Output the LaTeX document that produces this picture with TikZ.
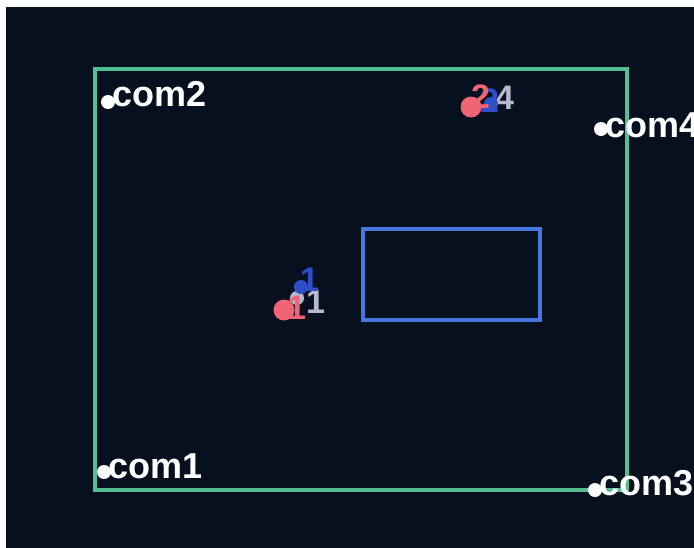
\documentclass[tikz,border=0pt]{standalone}
\usepackage{fontspec}
\setmainfont{Liberation Sans}
\usepackage{tikz}
\usetikzlibrary{positioning}
\definecolor{bgnavy}{RGB}{6,16,30}
\definecolor{framegreen}{RGB}{84,190,146}
\definecolor{zoneblue}{RGB}{70,118,222}
\definecolor{ptpink}{RGB}{240,100,118}
\definecolor{ptblue}{RGB}{48,78,200}
\definecolor{ptgrey}{RGB}{185,185,205}

\begin{document}
\begin{tikzpicture}[
  x=1pt, y=-1pt,
  comdot/.style={circle, fill=white, inner sep=0pt, minimum size=14pt},
  comlab/.style={text=white, anchor=base west, inner sep=0pt,
    font=\bfseries\fontsize{36}{36}\selectfont},
  ptdot/.style={circle, fill=#1, inner sep=0pt, minimum size=21pt},
  ptlab/.style={text=#1, anchor=base west, inner sep=0pt,
    font=\bfseries\fontsize{34}{34}\selectfont}
]
\useasboundingbox (0,0) rectangle (694,547);
\clip (0,0) rectangle (694,547);
\fill[white] (0,0) rectangle (694,547);
\fill[bgnavy] (6,7) rectangle (700,552);

% area and zone
\draw[framegreen, line width=3.5pt] (95,69) rectangle (627,490);
\draw[zoneblue, line width=3.5pt] (363,229) rectangle (540,320);

% anchors
\node[comdot] (c2dot) at (108,102) {};
\node[comlab] (com2) at (112,106) {com2};
\node[comdot] (c4dot) at (601,129) {};
\node[comlab] (com4) at (605,137) {com4};
\node[comdot] (c1dot) at (104,472) {};
\node[comlab] (com1) at (108,478) {com1};
\node[comdot] (c3dot) at (595,490) {};
\node[comlab] (com3) at (599,495) {com3};

% estimated positions, near tag 1
\node[ptdot=ptgrey, minimum size=14pt] (g1dot) at (297,298) {};
\node[ptlab=ptgrey] (g1) at (306,313) {1};
\node[ptdot=ptblue, minimum size=14pt] (b1dot) at (301,287) {};
\node[ptlab=ptblue] (b1) at (300,291) {1};
\node[ptdot=ptpink] (p1dot) at (284,310) {};
\node[ptlab=ptpink] (p1) at (287,319) {1};

% estimated positions, near tag 2
\node[ptlab=ptgrey] (g4) at (495,109) {4};
\node[ptdot=ptblue, minimum size=14pt] (b2dot) at (491,104) {};
\node[ptlab=ptblue] (b2) at (480,112) {2};
\node[ptdot=ptpink] (p2dot) at (471,107) {};
\node[ptlab=ptpink] (p2) at (471,108) {2};
\end{tikzpicture}
\end{document}
